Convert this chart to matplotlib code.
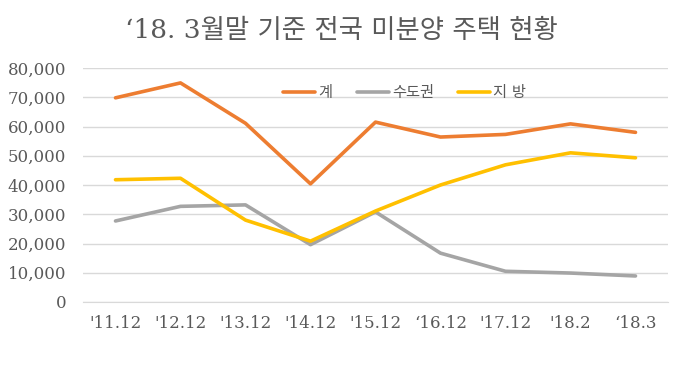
import matplotlib.pyplot as plt
from matplotlib.ticker import FuncFormatter

plt.rcParams['font.family'] = ['DejaVu Serif', 'Noto Sans CJK KR']

categories = ["'11.12", "'12.12", "'13.12", "'14.12", "'15.12", "\u201816.12", "'17.12", "'18.2", "\u201818.3"]
total = [69800, 74900, 61100, 40400, 61500, 56400, 57300, 60900, 58000]
capital = [27700, 32700, 33200, 19600, 30800, 16700, 10500, 9900, 8900]
local = [41800, 42300, 28000, 20800, 31100, 40000, 46900, 51000, 49300]

fig = plt.figure(figsize=(6.83, 3.8), dpi=100)
ax = fig.add_axes([83 / 683, 1 - 302 / 380, 585 / 683, 234 / 380])

x = range(len(categories))
ax.plot(x, total, color='#ED7D31', linewidth=2.6, label='계', solid_capstyle='round')
ax.plot(x, capital, color='#A5A5A5', linewidth=2.6, label='수도권', solid_capstyle='round')
ax.plot(x, local, color='#FFC000', linewidth=2.6, label='지 방', solid_capstyle='round')

ax.set_xlim(-0.5, len(categories) - 0.5)
ax.set_ylim(0, 80000)
ax.set_yticks(range(0, 80001, 10000))
ax.yaxis.set_major_formatter(FuncFormatter(lambda v, p: f'{int(v):,}'))
ax.set_xticks(list(x))
ax.set_xticklabels(categories)
ax.grid(axis='y', color='#D9D9D9', linewidth=1)
ax.set_axisbelow(True)
for s in ['top', 'right', 'left']:
    ax.spines[s].set_visible(False)
ax.spines['bottom'].set_color('#D9D9D9')
ax.tick_params(length=0, labelsize=12, colors='#595959', pad=9)
ax.tick_params(axis='y', pad=12)

ax.legend(loc='upper center', bbox_to_anchor=(0.55, 0.98), ncol=3, frameon=False,
          fontsize=11, handlelength=2.1, handletextpad=0.2, columnspacing=1.6,
          labelcolor='#595959')

fig.text(0.5, 1 - 30 / 380, '\u201818. 3월말 기준 전국 미분양 주택 현황', ha='center', va='center',
         fontsize=19, color='#595959', fontweight='medium')

fig.savefig('out.png', dpi=100)
